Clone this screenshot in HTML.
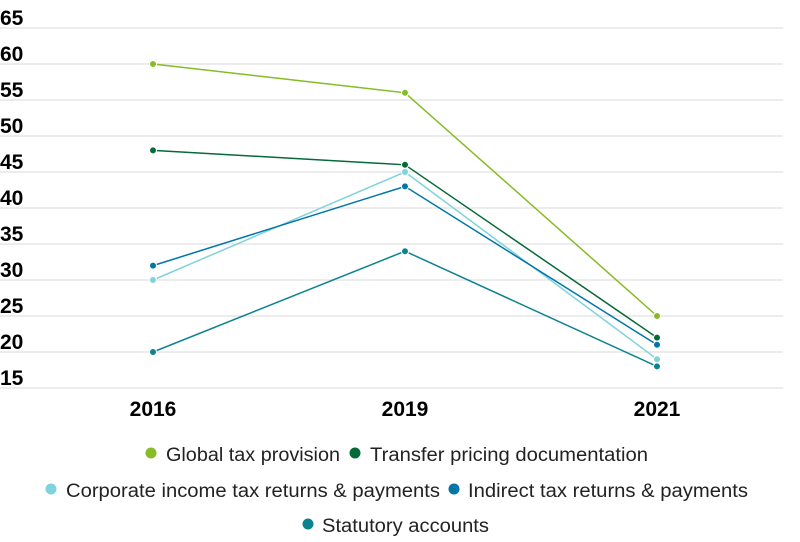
<!DOCTYPE html>
<html><head><meta charset="utf-8"><style>
body{margin:0;background:#fff;width:800px;height:537px;overflow:hidden}
svg text{font-family:"Liberation Sans",sans-serif}
</style></head><body>
<svg width="800" height="537" xmlns="http://www.w3.org/2000/svg">
<g stroke="#e6e6e6" stroke-width="1.5">
<line x1="0" x2="783" y1="28" y2="28"/><line x1="0" x2="783" y1="64" y2="64"/>
<line x1="0" x2="783" y1="100" y2="100"/><line x1="0" x2="783" y1="136" y2="136"/>
<line x1="0" x2="783" y1="172" y2="172"/><line x1="0" x2="783" y1="208" y2="208"/>
<line x1="0" x2="783" y1="244" y2="244"/><line x1="0" x2="783" y1="280" y2="280"/>
<line x1="0" x2="783" y1="316" y2="316"/><line x1="0" x2="783" y1="352" y2="352"/>
<line x1="0" x2="783" y1="388" y2="388"/>
</g>
<g font-size="21" font-weight="bold" fill="#000">
<text x="0" y="25">65</text><text x="0" y="61">60</text><text x="0" y="97">55</text>
<text x="0" y="133">50</text><text x="0" y="169">45</text><text x="0" y="205">40</text>
<text x="0" y="241">35</text><text x="0" y="277">30</text><text x="0" y="313">25</text>
<text x="0" y="349">20</text><text x="0" y="385">15</text>
<text x="153" y="416" text-anchor="middle">2016</text>
<text x="405" y="416" text-anchor="middle">2019</text>
<text x="657" y="416" text-anchor="middle">2021</text>
</g>
<g fill="none" stroke-width="1.5">
<polyline stroke="#86bc25" points="153,64 405,92.8 657,316"/>
<polyline stroke="#046a38" points="153,150.4 405,164.8 657,337.6"/>
<polyline stroke="#7fd3dc" points="153,280 405,172 657,359.2"/>
<polyline stroke="#0076a8" points="153,265.6 405,186.4 657,344.8"/>
<polyline stroke="#0d8390" points="153,352 405,251.2 657,366.4"/>
</g>
<g stroke="#fff" stroke-width="1">
<g fill="#86bc25"><circle cx="153" cy="64" r="3.5"/><circle cx="405" cy="92.8" r="3.5"/><circle cx="657" cy="316" r="3.5"/></g>
<g fill="#046a38"><circle cx="153" cy="150.4" r="3.5"/><circle cx="405" cy="164.8" r="3.5"/><circle cx="657" cy="337.6" r="3.5"/></g>
<g fill="#7fd3dc"><circle cx="153" cy="280" r="3.5"/><circle cx="405" cy="172" r="3.5"/><circle cx="657" cy="359.2" r="3.5"/></g>
<g fill="#0076a8"><circle cx="153" cy="265.6" r="3.5"/><circle cx="405" cy="186.4" r="3.5"/><circle cx="657" cy="344.8" r="3.5"/></g>
<g fill="#0d8390"><circle cx="153" cy="352" r="3.5"/><circle cx="405" cy="251.2" r="3.5"/><circle cx="657" cy="366.4" r="3.5"/></g>
</g>
<g font-size="19" fill="#222">
<circle cx="151" cy="453" r="5.5" fill="#86bc25"/><text x="166" y="461" textLength="174" lengthAdjust="spacingAndGlyphs">Global tax provision</text>
<circle cx="355" cy="453" r="5.5" fill="#046a38"/><text x="370" y="461" textLength="278" lengthAdjust="spacingAndGlyphs">Transfer pricing documentation</text>
<circle cx="51" cy="489" r="5.5" fill="#7fd3dc"/><text x="66" y="497" textLength="374" lengthAdjust="spacingAndGlyphs">Corporate income tax returns &amp; payments</text>
<circle cx="454" cy="489" r="5.5" fill="#0076a8"/><text x="468" y="497" textLength="280" lengthAdjust="spacingAndGlyphs">Indirect tax returns &amp; payments</text>
<circle cx="308" cy="524" r="5.5" fill="#0d8390"/><text x="322" y="532" textLength="167" lengthAdjust="spacingAndGlyphs">Statutory accounts</text>
</g>
</svg>
</body></html>
